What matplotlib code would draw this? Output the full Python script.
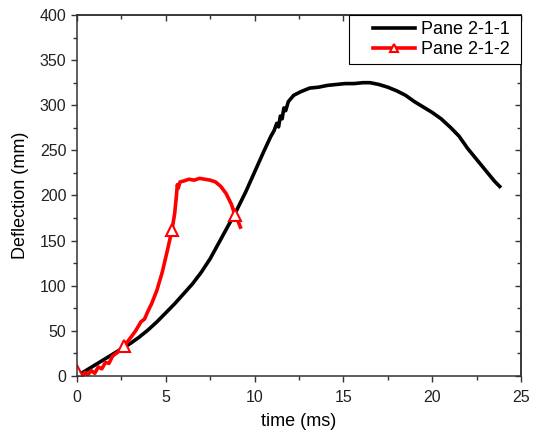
"""
Deflection vs time for two panes, redrawn from the reference figure
"""

import matplotlib
matplotlib.use("Agg")
import matplotlib.pyplot as plt
from matplotlib.ticker import MultipleLocator
from matplotlib.legend_handler import HandlerLine2D

plt.rcParams['font.family'] = ['Liberation Sans', 'DejaVu Sans']

# Pane 2-1-1 (black)
t_black = [0, 0.5, 1.0, 1.5, 2.0, 2.5, 3.0, 3.5, 4.0, 4.5, 5.0, 5.5, 6.0, 6.5, 7.0,
           7.5, 8.0, 8.5, 9.0, 9.5, 10.0, 10.5, 10.9, 11.1, 11.25, 11.35, 11.45,
           11.55, 11.65, 11.75, 11.9, 12.2, 12.6, 13.1, 13.6, 14.1, 14.6, 15.1,
           15.6, 16.1, 16.5, 17.0, 17.5, 18.0, 18.5, 19.0, 19.5, 20.0, 20.5, 21.0,
           21.5, 22.0, 22.5, 23.0, 23.5, 23.8]
y_black = [0, 6, 12, 18, 24, 30, 36, 43, 51, 60, 70, 80, 91, 102, 115,
           130, 148, 166, 184, 204, 226, 248, 265, 272, 280, 276, 288,
           285, 297, 294, 304, 311, 315, 319, 320, 322, 323, 324,
           324, 325, 325, 323, 320, 316, 311, 304, 298, 292, 285, 276,
           266, 252, 240, 228, 216, 210]

# Pane 2-1-2 (red)
t_red = [0, 0.15, 0.3, 0.45, 0.6, 0.8, 1.0, 1.2, 1.4, 1.6, 1.8, 2.0, 2.2, 2.4,
         2.65, 3.0, 3.3, 3.6, 3.8, 4.0, 4.2, 4.5, 4.8, 5.1, 5.35, 5.5, 5.6,
         5.65, 5.7, 5.8, 6.0, 6.3, 6.6, 6.9, 7.2, 7.5, 7.8, 8.1, 8.4, 8.7, 8.9,
         9.1, 9.2]
y_red = [6, 2, 0, 4, 1, 6, 3, 10, 8, 15, 14, 22, 25, 28,
         33, 42, 50, 60, 63, 72, 80, 95, 115, 140, 162, 180, 200,
         212, 208, 215, 216, 218, 217, 219, 218, 217, 215, 210, 202, 190, 178,
         170, 165]
red_marks = [0, 14, 24, 40]


def main():
    fig = plt.figure(figsize=(5.38, 4.41), dpi=100)
    ax = fig.add_axes([0.1431, 0.1474, 0.8253, 0.8186])

    ax.plot(t_black, y_black, color="black", lw=2.6, label="Pane 2-1-1 ")
    ax.plot(t_red, y_red, color="red", lw=2.6, marker="^", markevery=red_marks,
            markersize=8, markerfacecolor="white", markeredgecolor="red",
            markeredgewidth=1.5, label="Pane 2-1-2 ")

    ax.set_xlim(0, 25)
    ax.set_ylim(0, 400)
    ax.xaxis.set_major_locator(MultipleLocator(5))
    ax.xaxis.set_minor_locator(MultipleLocator(2.5))
    ax.yaxis.set_major_locator(MultipleLocator(50))
    ax.yaxis.set_minor_locator(MultipleLocator(25))

    ax.tick_params(which="both", direction="out", top=False, right=False,
                   labelsize=11.5, color="#333333", labelcolor="#222222", width=1)
    ax.tick_params(which="major", length=4)
    ax.tick_params(which="minor", length=3)
    ax.tick_params(axis="x", which="major", pad=6)

    # inward ticks on top and right, as in Origin plots
    top = ax.secondary_xaxis("top")
    top.xaxis.set_major_locator(MultipleLocator(5))
    top.xaxis.set_minor_locator(MultipleLocator(2.5))
    top.set_xticklabels([])
    right = ax.secondary_yaxis("right")
    right.yaxis.set_major_locator(MultipleLocator(50))
    right.yaxis.set_minor_locator(MultipleLocator(25))
    right.set_yticklabels([])
    for sec, side in ((top, "top"), (right, "right")):
        sec.tick_params(which="both", direction="in", width=1, color="#333333")
        sec.tick_params(which="major", length=4)
        sec.tick_params(which="minor", length=3)
        sec.spines[side].set_linewidth(1.1)
        sec.spines[side].set_color("#333333")

    for s in ax.spines.values():
        s.set_linewidth(1.1)
        s.set_color("#333333")

    ax.set_xlabel("time (ms)", fontsize=13, labelpad=6)
    ax.set_ylabel("Deflection (mm)", fontsize=13, labelpad=8)

    leg = ax.legend(loc="upper right", fontsize=13, borderaxespad=0,
                    handlelength=3.3, fancybox=False, framealpha=1,
                    edgecolor="black", borderpad=0.35, labelspacing=0.15,
                    handletextpad=0.35,
                    handler_map={ln: HandlerLine2D(xpad=1.0) for ln in ax.get_lines()})
    leg.get_frame().set_linewidth(0.8)
    leg.legend_handles[1].set_markersize(6)

    fig.savefig("out.png", dpi=100)


if __name__ == "__main__":
    main()
